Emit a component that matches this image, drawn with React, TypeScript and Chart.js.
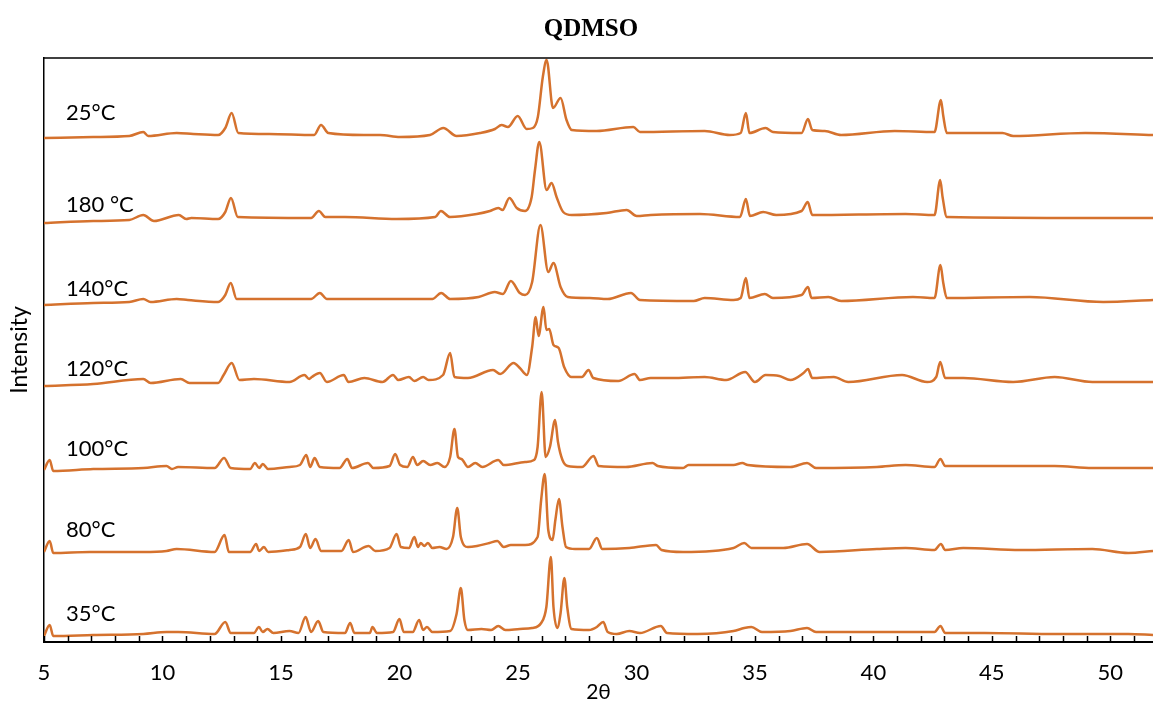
import React, { useEffect, useRef } from 'react';
import { Chart, registerables } from 'chart.js';

Chart.register(...registerables);

// 2θ (degrees) vs intensity (arbitrary units, stacked offsets included)
const s25: [number, number][] = [
  [5, 504], [7.08, 505], [8.6, 506], [9.19, 510], [9.4, 506], [10.6, 509], [11.3, 508], [12.35, 507], [12.65, 514], [12.92, 529], [13.2, 509], [14.5, 508], [16.4, 507], [16.69, 517], [17.0, 509], [18.5, 507], [19.18, 507], [20.02, 505], [21.29, 507], [21.85, 514], [22.41, 506], [23.4, 509], [24.03, 513], [24.31, 517], [24.58, 515], [24.99, 526], [25.37, 513], [25.63, 514], [25.84, 525], [26.05, 565], [26.21, 582], [26.48, 534], [26.8, 544], [27.05, 522], [27.27, 512], [28.32, 511], [29.87, 515], [30.15, 510], [32.88, 511], [33.94, 507], [34.4, 509], [34.62, 529], [34.77, 509], [35.45, 514], [35.76, 510], [36.97, 509], [37.24, 523], [37.42, 512], [37.95, 511], [38.64, 507], [40.9, 511], [42.58, 510], [42.85, 542], [42.95, 526], [43.1, 509], [45.45, 509], [45.9, 506], [48.94, 509], [51.8, 507],
];
const s180: [number, number][] = [
  [5, 419], [7.08, 421], [8.6, 422], [9.19, 427], [9.64, 421], [10.69, 427], [11.0, 423], [11.22, 424], [12.35, 423], [12.65, 430], [12.89, 444], [13.18, 425], [16.27, 424], [16.6, 431], [16.87, 425], [17.7, 425], [19.88, 423], [21.51, 425], [21.75, 431], [22.13, 425], [23.26, 428], [23.82, 431], [24.17, 434], [24.35, 432], [24.64, 444], [24.95, 434], [25.3, 431], [25.58, 445], [25.72, 472], [25.9, 500], [26.21, 452], [26.42, 459], [26.63, 445], [26.91, 430], [27.27, 427], [28.74, 429], [29.59, 432], [30.01, 426], [30.6, 427], [32.68, 428], [34.37, 425], [34.62, 443], [34.79, 426], [35.35, 430], [35.9, 427], [36.97, 431], [37.23, 440], [37.42, 427], [41.36, 428], [42.58, 427], [42.82, 462], [42.92, 445], [43.1, 425], [49.24, 424], [51.8, 424],
];
const s140: [number, number][] = [
  [5, 337], [7.08, 339], [8.6, 340], [9.19, 343], [9.5, 340], [10.6, 343], [11.07, 342], [12.35, 340], [12.65, 347], [12.88, 359], [13.13, 343], [16.27, 343], [16.64, 349], [16.94, 343], [21.39, 343], [21.76, 349], [22.14, 343], [23.34, 345], [24.02, 350], [24.37, 348], [24.7, 361], [25.08, 349], [25.3, 347], [25.6, 360], [25.95, 417], [26.28, 370], [26.5, 379], [26.8, 355], [27.1, 345], [28.03, 344], [28.79, 343], [29.77, 349], [30.15, 342], [32.42, 341], [32.88, 344], [34.1, 342], [34.4, 344], [34.62, 364], [34.77, 344], [35.42, 348], [35.76, 344], [36.97, 347], [37.24, 355], [37.39, 344], [38.1, 345], [38.64, 341], [41.67, 345], [42.58, 344], [42.83, 377], [42.95, 359], [43.1, 344], [46.6, 345], [49.7, 340], [51.8, 342],
];
const s120: [number, number][] = [
  [5, 256], [7.08, 258], [9.19, 263], [9.5, 259], [10.77, 263], [11.14, 259], [12.35, 259], [12.58, 267], [12.92, 279], [13.25, 262], [13.86, 263], [15.36, 260], [15.99, 267], [16.19, 263], [16.3, 265], [16.64, 269], [16.94, 260], [17.65, 267], [17.85, 260], [18.52, 264], [19.28, 260], [19.73, 267], [19.95, 262], [20.4, 265], [20.63, 261], [21.0, 265], [21.23, 262], [21.84, 267], [22.14, 289], [22.32, 265], [22.89, 264], [23.95, 272], [24.25, 268], [24.82, 279], [25.08, 274], [25.38, 267], [25.6, 295], [25.75, 325], [25.87, 306], [26.08, 335], [26.2, 312], [26.32, 313], [26.5, 297], [26.72, 294], [26.95, 275], [27.26, 265], [27.7, 265], [27.98, 272], [28.18, 264], [29.24, 261], [29.92, 268], [30.15, 262], [30.6, 264], [31.5, 264], [32.88, 265], [33.79, 262], [34.59, 270], [35.0, 260], [35.45, 267], [36.03, 266], [36.5, 262], [37.05, 269], [37.24, 273], [37.42, 264], [38.33, 265], [38.94, 260], [41.21, 267], [42.27, 260], [42.65, 265], [42.82, 280], [43.03, 264], [43.8, 264], [45.9, 260], [47.65, 265], [49.24, 260], [51.8, 260],
];
const s100: [number, number][] = [
  [5, 172], [5.24, 182], [5.39, 171], [7.08, 173], [9.19, 174], [10.17, 176], [10.4, 173], [10.66, 175], [12.2, 174], [12.6, 184], [12.88, 174], [13.7, 173], [13.9, 179], [14.08, 174], [14.23, 178], [14.46, 173], [15.36, 175], [15.8, 177], [16.07, 187], [16.23, 175], [16.42, 184], [16.64, 175], [17.47, 174], [17.8, 183], [18.0, 174], [18.67, 179], [18.9, 174], [19.58, 176], [19.82, 188], [20.03, 177], [20.33, 175], [20.57, 185], [20.75, 177], [21.0, 181], [21.3, 177], [21.6, 179], [21.9, 175], [22.14, 185], [22.32, 213], [22.47, 185], [22.62, 183], [22.89, 175], [23.2, 179], [23.5, 175], [24.17, 182], [24.4, 177], [25.3, 180], [25.68, 182], [25.83, 195], [26.0, 250], [26.17, 185], [26.35, 195], [26.57, 222], [26.69, 200], [26.88, 182], [27.1, 176], [27.7, 175], [28.19, 186], [28.41, 176], [29.55, 175], [30.68, 179], [30.9, 176], [31.97, 174], [32.2, 177], [34.1, 177], [34.47, 179], [34.7, 177], [36.5, 175], [37.2, 179], [37.58, 174], [40.15, 175], [41.36, 177], [42.58, 175], [42.83, 183], [43.03, 176], [43.94, 176], [45.6, 176], [47.65, 176], [49.24, 174], [51.8, 174],
];
const s80: [number, number][] = [
  [5, 90], [5.24, 101], [5.39, 89], [6.93, 90], [9.19, 90], [10.17, 91], [10.6, 93], [12.2, 90], [12.62, 107], [12.8, 90], [13.7, 90], [13.95, 98], [14.08, 91], [14.28, 95], [14.46, 90], [15.36, 92], [15.8, 95], [16.05, 108], [16.23, 94], [16.46, 103], [16.69, 91], [17.55, 91], [17.86, 102], [18.04, 90], [18.7, 96], [18.98, 91], [19.58, 94], [19.88, 108], [20.06, 95], [20.4, 94], [20.63, 105], [20.78, 95], [20.9, 99], [21.05, 96], [21.2, 99], [21.39, 94], [21.69, 95], [21.99, 93], [22.26, 105], [22.44, 134], [22.59, 105], [22.89, 95], [23.27, 96], [23.8, 99], [24.13, 101], [24.4, 95], [24.7, 97], [25.3, 97], [25.83, 105], [25.98, 142], [26.13, 168], [26.28, 112], [26.46, 102], [26.58, 122], [26.73, 143], [26.88, 115], [27.03, 95], [27.41, 93], [28.0, 93], [28.33, 104], [28.56, 93], [29.7, 94], [30.83, 97], [31.06, 92], [31.97, 90], [34.1, 94], [34.55, 99], [34.85, 94], [36.2, 94], [37.2, 98], [37.73, 90], [40.15, 93], [41.36, 94], [42.58, 92], [42.85, 98], [43.03, 92], [43.79, 94], [46.2, 92], [49.24, 93], [50.76, 89], [51.8, 91],
];
const s35: [number, number][] = [
  [5, 6], [5.24, 17], [5.39, 6], [7.08, 7], [9.19, 8], [10.17, 10], [10.66, 10], [12.2, 8], [12.65, 20], [12.88, 9], [13.86, 9], [14.07, 15], [14.23, 10], [14.43, 13], [14.68, 9], [15.36, 11], [15.74, 9], [16.04, 25], [16.27, 10], [16.57, 21], [16.79, 10], [17.7, 9], [17.92, 19], [18.1, 9], [18.75, 9], [18.86, 15], [19.05, 9], [19.73, 10], [20.0, 23], [20.18, 10], [20.56, 10], [20.83, 22], [21.0, 12], [21.16, 15], [21.39, 10], [22.14, 11], [22.41, 28], [22.59, 54], [22.74, 22], [22.89, 12], [23.46, 13], [23.87, 12], [24.17, 16], [24.47, 12], [25.08, 13], [25.6, 14], [25.98, 19], [26.2, 35], [26.39, 85], [26.5, 35], [26.66, 14], [26.8, 29], [26.96, 64], [27.08, 35], [27.26, 13], [28.0, 12], [28.33, 15], [28.6, 20], [28.79, 10], [29.17, 8], [29.7, 11], [30.15, 9], [31.03, 16], [31.29, 9], [32.58, 8], [34.1, 11], [34.55, 14], [34.85, 15], [35.3, 10], [36.5, 11], [37.2, 14], [37.58, 10], [40.15, 10], [42.58, 10], [42.83, 16], [43.03, 9], [44.7, 9], [47.73, 8], [50.76, 8], [51.8, 7],
];

const seriesNames = ['25°C', '180 °C', '140°C', '120°C', '100°C', '80°C', '35°C'];
const seriesData = [s25, s180, s140, s120, s100, s80, s35];
// label anchors (2θ, intensity) for the in-plot series annotations
const labelAnchorX = 5.93;
const labelAnchorY = [529.5, 437, 353.5, 273, 193.5, 112, 28.5];

const chartTitle = 'QDMSO';
const xTitle = '2θ';
const yTitle = 'Intensity';
const xMin = 5;
const xMax = 51.8;
const yMax = 584;

const LINE_COLOR = '#D5722E';
const SANS = 'Lato, "Open Sans", sans-serif';

const decorPlugin = {
  id: 'decor',
  afterDraw(chart: any) {
    const { ctx, chartArea, scales } = chart;
    const xs = scales.x;
    const ys = scales.y;
    ctx.save();
    // top border
    ctx.strokeStyle = '#000';
    ctx.lineWidth = 1.5;
    ctx.beginPath();
    ctx.moveTo(chartArea.left, chartArea.top);
    ctx.lineTo(chartArea.right, chartArea.top);
    ctx.stroke();
    // inside tick marks at each integer
    ctx.lineWidth = 1.5;
    for (let v = Math.ceil(xMin); v <= xMax; v++) {
      const px = Math.round(xs.getPixelForValue(v)) + 0.5;
      ctx.beginPath();
      ctx.moveTo(px, chartArea.bottom);
      ctx.lineTo(px, chartArea.bottom - 6);
      ctx.stroke();
    }
    // series labels
    ctx.fillStyle = '#000';
    ctx.font = `22px ${SANS}`;
    ctx.textAlign = 'left';
    ctx.textBaseline = 'middle';
    seriesNames.forEach((name, i) => {
      ctx.fillText(name, xs.getPixelForValue(labelAnchorX), ys.getPixelForValue(labelAnchorY[i]));
    });
    // chart title
    ctx.font = 'bold 25px "Liberation Serif", "Times New Roman", serif';
    ctx.textAlign = 'center';
    ctx.fillText(chartTitle, 591, 30);
    ctx.restore();
  },
};

export default function App() {
  const canvasRef = useRef<HTMLCanvasElement | null>(null);

  useEffect(() => {
    const canvas = canvasRef.current;
    if (!canvas) return;
    const chart = new Chart(canvas, {
      type: 'line',
      data: {
        datasets: seriesData.map((d, i) => ({
          label: seriesNames[i],
          data: d.map(([x, y]) => ({ x, y })),
          borderColor: LINE_COLOR,
          backgroundColor: LINE_COLOR,
          borderWidth: 2.5,
          pointRadius: 0,
          cubicInterpolationMode: 'monotone',
          fill: false,
        })),
      },
      options: {
        responsive: false,
        animation: false,
        layout: { padding: { top: 58, left: 0, right: 0, bottom: 0 } },
        plugins: {
          legend: { display: false },
          tooltip: { enabled: false },
          title: { display: false },
        },
        scales: {
          x: {
            type: 'linear',
            min: xMin,
            max: xMax,
            grid: { display: false, drawTicks: false },
            border: { display: true, color: '#000', width: 2 },
            ticks: {
              stepSize: 5,
              includeBounds: false,
              autoSkip: false,
              maxRotation: 0,
              padding: 18,
              color: '#000',
              font: { family: SANS, size: 22 },
              callback: (v: any) => (Number(v) % 5 === 0 ? String(v) : ''),
            },
            title: {
              display: true,
              text: xTitle,
              color: '#000',
              font: { family: SANS, size: 21 },
              padding: { top: 1, bottom: 1 },
            },
            afterFit: (s: any) => {
              s.height = 64;
            },
          },
          y: {
            type: 'linear',
            min: 0,
            max: yMax,
            grid: { display: false, drawTicks: false },
            border: { display: true, color: '#000', width: 1.5 },
            ticks: { display: false },
            title: {
              display: true,
              text: yTitle,
              color: '#000',
              font: { family: SANS, size: 23 },
              padding: { top: 6, bottom: 6 },
            },
            afterFit: (s: any) => {
              s.width = 44;
            },
          },
        },
      },
      plugins: [decorPlugin],
    });
    return () => chart.destroy();
  }, []);

  return (
    <div style={{ position: 'fixed', left: 0, top: 0, width: 1153, height: 706, background: '#fff' }}>
      <canvas ref={canvasRef} width={1153} height={706} style={{ display: 'block' }} />
    </div>
  );
}
